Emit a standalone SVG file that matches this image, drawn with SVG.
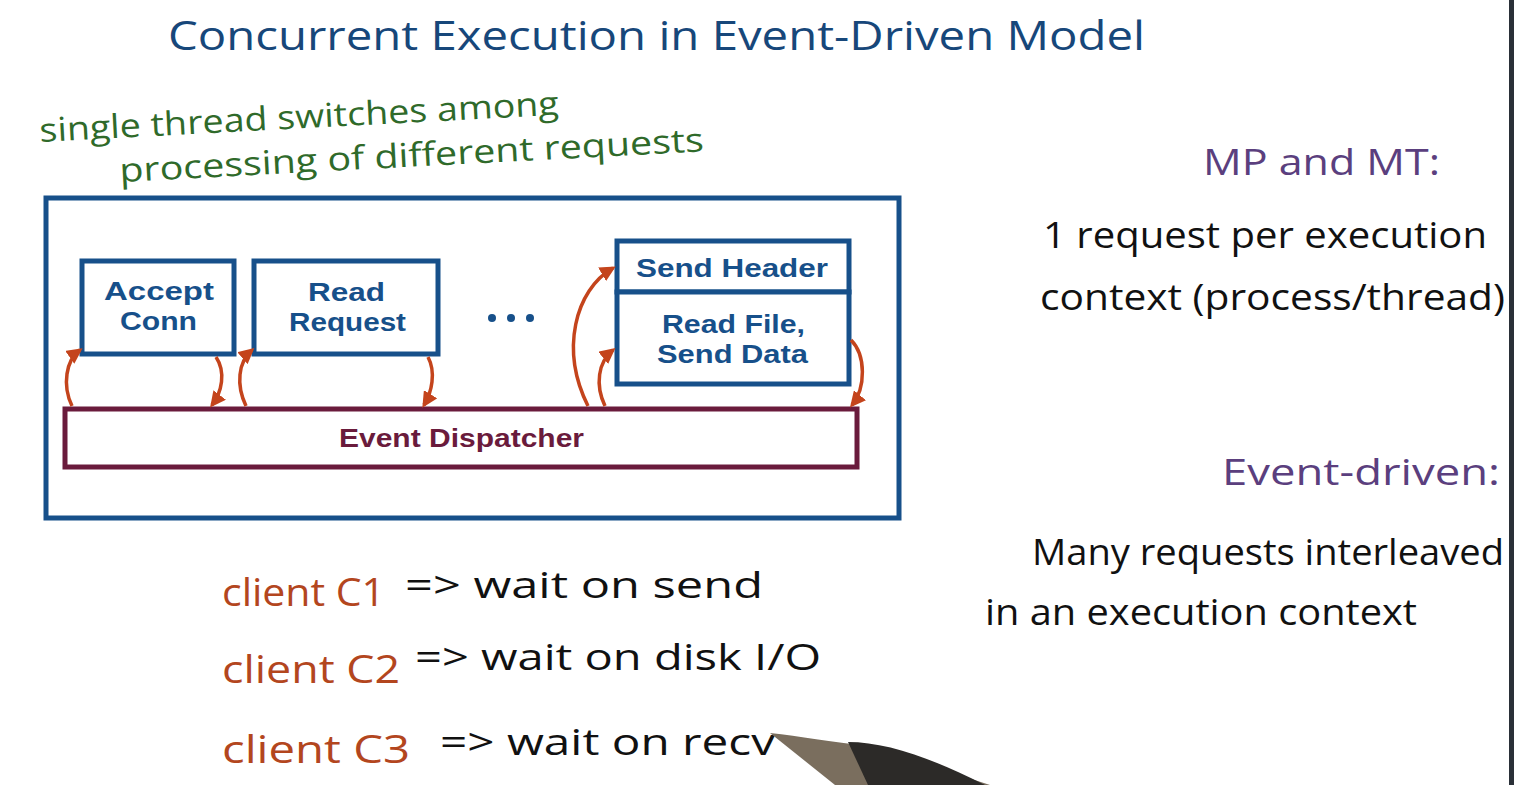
<svg xmlns="http://www.w3.org/2000/svg" width="1514" height="785" viewBox="0 0 1514 785">
<defs>
<marker id="ah" viewBox="0 0 10 10" refX="8" refY="5" markerWidth="4.5" markerHeight="4.5" orient="auto" markerUnits="strokeWidth">
<path d="M0,0 L10,5 L0,10 z" fill="#c4441c"/>
</marker>
<style>
.hand{font-family:"Open Sans","Liberation Sans",sans-serif}
.title{fill:#17477a;font-size:40px}
.green{fill:#2f6a2a;font-size:33px}
.purple{fill:#5b3f7e;font-size:36px}
.black{fill:#111;font-size:36px}
.orange{fill:#b3461e;font-size:38px}
.box{fill:#fff;stroke:#17508a;stroke-width:5}
.btxt{font-family:"Liberation Sans",Arial,sans-serif;font-weight:bold;font-size:26px;fill:#17508a}
.conn{fill:none;stroke:#c4441c;stroke-width:3.5;marker-end:url(#ah)}
</style>
</defs>
<rect width="1514" height="785" fill="#fff"/>
<rect x="1509" y="0" width="5" height="785" fill="#2a3038"/>

<g id="title"><text class="hand title" x="168" y="50" textLength="977" lengthAdjust="spacingAndGlyphs">Concurrent Execution in Event-Driven Model</text></g>

<g id="note-green">
<text class="hand green" x="40" y="142" textLength="520" lengthAdjust="spacingAndGlyphs" transform="rotate(-3 40 142)">single thread switches among</text>
<text class="hand green" x="120" y="182" textLength="585" lengthAdjust="spacingAndGlyphs" transform="rotate(-3 120 182)">processing of different requests</text>
</g>

<g id="outer"><rect x="46" y="198" width="853" height="320" fill="none" stroke="#17508a" stroke-width="5"/></g>

<g id="accept-conn"><rect class="box" x="82" y="261" width="152" height="93"/>
<text class="btxt"><tspan x="104" y="300" textLength="110" lengthAdjust="spacingAndGlyphs">Accept</tspan><tspan x="120" y="330" textLength="77" lengthAdjust="spacingAndGlyphs">Conn</tspan></text></g>

<g id="read-request"><rect class="box" x="254" y="261" width="184" height="93"/>
<text class="btxt"><tspan x="308" y="301" textLength="77" lengthAdjust="spacingAndGlyphs">Read</tspan><tspan x="289" y="331" textLength="117" lengthAdjust="spacingAndGlyphs">Request</tspan></text></g>

<g id="ellipsis"><circle cx="492" cy="318" r="4" fill="#17508a"/><circle cx="511" cy="318" r="4" fill="#17508a"/><circle cx="530" cy="318" r="4" fill="#17508a"/></g>

<g id="send-header"><rect class="box" x="617" y="241" width="232" height="51"/>
<text class="btxt" x="636" y="277" textLength="192" lengthAdjust="spacingAndGlyphs">Send Header</text></g>

<g id="read-file"><rect class="box" x="617" y="292" width="232" height="92"/>
<text class="btxt"><tspan x="662" y="333" textLength="143" lengthAdjust="spacingAndGlyphs">Read File,</tspan><tspan x="657" y="363" textLength="151" lengthAdjust="spacingAndGlyphs">Send Data</tspan></text></g>

<g id="event-dispatcher"><rect x="65" y="409" width="792" height="58" fill="#fff" stroke="#6a1b3c" stroke-width="5"/>
<text x="339" y="447" font-family="'Liberation Sans',Arial,sans-serif" font-weight="bold" font-size="26" fill="#6a1b3c" textLength="245" lengthAdjust="spacingAndGlyphs">Event Dispatcher</text></g>

<g id="connectors">
<path class="conn" d="M72,406 C62,385 66,360 80,350"/>
<path class="conn" d="M216,357 C226,372 222,392 212,405"/>
<path class="conn" d="M246,406 C236,385 238,362 252,350"/>
<path class="conn" d="M428,357 C436,372 432,392 424,405"/>
<path class="conn" d="M588,406 C560,350 575,290 613,268"/>
<path class="conn" d="M605,406 C595,385 598,362 613,350"/>
<path class="conn" d="M851,340 C866,355 866,388 852,405"/>
</g>

<g id="clients">
<text class="hand orange" x="222" y="606" textLength="163" lengthAdjust="spacingAndGlyphs">client C1</text>
<text class="hand black" x="405" y="598" textLength="358" lengthAdjust="spacingAndGlyphs">=&gt;  wait on   send</text>
<text class="hand orange" x="222" y="683" textLength="178" lengthAdjust="spacingAndGlyphs">client C2</text>
<text class="hand black" x="415" y="670" textLength="406" lengthAdjust="spacingAndGlyphs">=&gt;  wait  on  disk I/O</text>
<text class="hand orange" x="222" y="763" textLength="188" lengthAdjust="spacingAndGlyphs">client C3</text>
<text class="hand black" x="440" y="755" textLength="335" lengthAdjust="spacingAndGlyphs">=&gt;  wait on recv</text>
</g>

<g id="right-notes">
<text class="hand purple" x="1203" y="175" textLength="237" lengthAdjust="spacingAndGlyphs">MP and MT:</text>
<text class="hand black" x="1043" y="248" textLength="444" lengthAdjust="spacingAndGlyphs">1 request per execution</text>
<text class="hand black" x="1040" y="310" textLength="465" lengthAdjust="spacingAndGlyphs">context (process/thread)</text>
<text class="hand purple" x="1222" y="485" textLength="278" lengthAdjust="spacingAndGlyphs">Event-driven:</text>
<text class="hand black" x="1032" y="565" textLength="472" lengthAdjust="spacingAndGlyphs">Many requests interleaved</text>
<text class="hand black" x="985" y="625" textLength="432" lengthAdjust="spacingAndGlyphs">in an execution context</text>
</g>

<g id="pen">
<path d="M770,733 C800,736 830,742 870,746 L990,785 L835,785 Z" fill="#7a6e5e"/>
<path d="M848,742 C885,742 930,757 985,785 L868,785 Z" fill="#2c2a28"/>
</g>
</svg>
